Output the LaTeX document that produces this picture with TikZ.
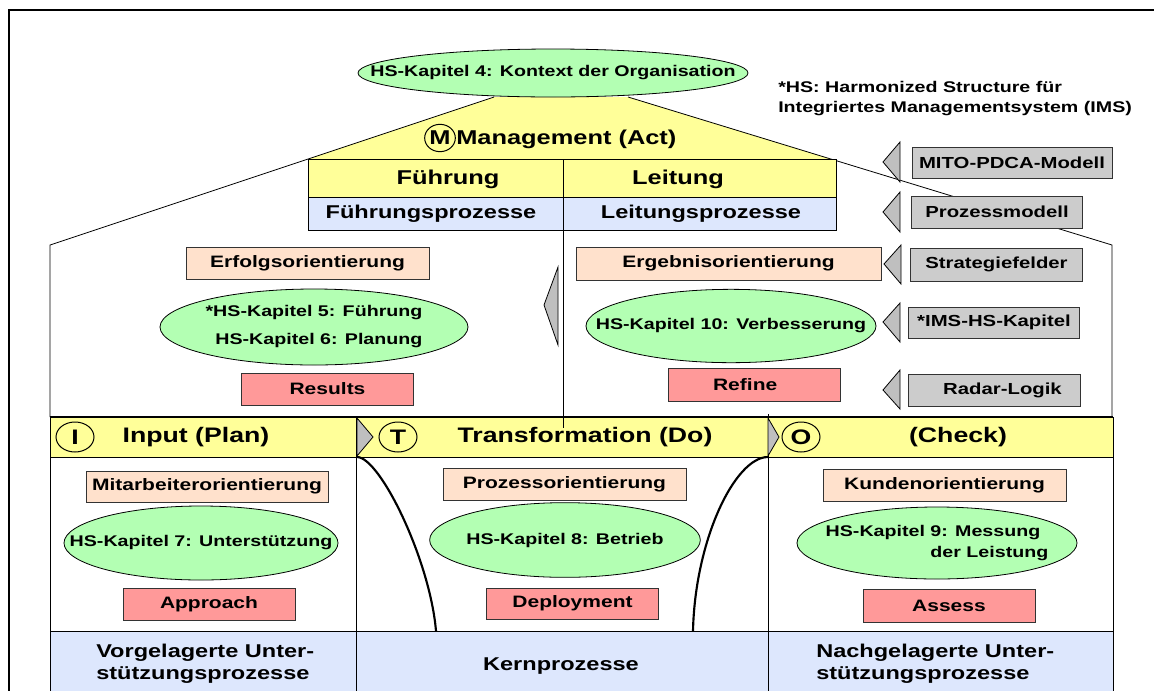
\documentclass[tikz,border=0pt]{standalone}
\usepackage{fontspec}
\setmainfont{Liberation Sans}[FakeStretch=1.27]
\usetikzlibrary{shapes.geometric}
\definecolor{cyel}{HTML}{FFFF99}
\definecolor{cblue}{HTML}{DDE7FD}
\definecolor{cpeach}{HTML}{FFE1CC}
\definecolor{cpink}{HTML}{FF9999}
\definecolor{cgreen}{HTML}{B3FFB3}
\definecolor{cgray}{HTML}{CCCCCC}
\definecolor{ctri}{HTML}{BFBFBF}
\newcommand\fsBand{\fontsize{15.75pt}{18pt}\selectfont\bfseries}
\newcommand\fsMgmt{\fontsize{15pt}{18pt}\selectfont\bfseries}
\newcommand\fsHead{\fontsize{15pt}{18pt}\selectfont\bfseries}
\newcommand\fsProc{\fontsize{13.9pt}{16.5pt}\selectfont\bfseries}
\newcommand\fsBox{\fontsize{12.4pt}{15pt}\selectfont\bfseries}
\newcommand\fsGray{\fontsize{12pt}{15pt}\selectfont\bfseries}
\newcommand\fsEll{\fontsize{11.6pt}{15.75pt}\selectfont\bfseries}
\newcommand\fsEllTwo{\fontsize{11.6pt}{21pt}\selectfont\bfseries}
\newcommand\fsNote{\fontsize{11.6pt}{15pt}\selectfont\bfseries}
\newcommand\fsBottom{\fontsize{13.9pt}{16.5pt}\selectfont\bfseries}
\tikzset{
  thinline/.style={line width=0.6pt},
  bx/.style={draw=black!80, line width=0.6pt, inner sep=0pt, font=\fsBox},
  orient/.style={bx, fill=cpeach, minimum width=182.25pt, minimum height=24pt},
  radarbox/.style={bx, fill=cpink, minimum width=128.5pt, minimum height=24pt},
  graybox/.style={bx, fill=cgray, minimum width=128.5pt, minimum height=24pt, font=\fsGray},
  hsell/.style={ellipse, draw=black, line width=0.6pt, fill=cgreen, inner sep=0pt},
  elltext/.style={inner sep=0pt, font=\fsEll},
  letter/.style={ellipse, draw=black, line width=0.75pt, inner sep=0pt, minimum width=28.5pt, minimum height=22.5pt, font=\fsBand},
  tri/.style={draw=black, line width=0.6pt, fill=ctri, line join=miter},
  bendline/.style={line width=1.6pt},
}
\begin{document}
\begin{tikzpicture}[x=0.75pt,y=-0.75pt]
\useasboundingbox (0,0) rectangle (1154,690);
\fill[white] (0,0) rectangle (1154,690);
% outer frame
\draw[line width=2pt] (9,700) -- (9,10) -- (1160,10);
% house roof
\coordinate (rtl) at (494,97);
\coordinate (rtr) at (628,97);
\coordinate (rbl) at (50,245);
\coordinate (rbr) at (1112,245);
\coordinate (wbl) at (50,417);
\coordinate (wbr) at (1112,417);
\fill[cyel] (rtl) -- (rtr) -- (831,159) -- (308,159) -- cycle;
\draw[thinline] (rtl) -- (rbl) -- (wbl);
\draw[thinline] (rtr) -- (rbr) -- (wbr);
% top ellipse
\node[hsell, minimum width=292.5pt, minimum height=36pt] (ctx) at (553,73) {};
\node[elltext] (ctxt) at (ctx.center) {HS-Kapitel 4: Kontext der Organisation};
% note
\node[anchor=west, align=left, font=\fsNote, inner sep=0pt] (note) at (778,99) {*HS: Harmonized Structure für\\Integriertes Managementsystem (IMS)};
% management
\node[letter, minimum width=23pt, minimum height=20.5pt, font=\fsMgmt] (mcirc) at (440,138) {M};
\node[anchor=west, font=\fsMgmt, inner sep=0pt] (mgmt) at (456,139) {Management (Act)};
% table
\draw[thinline, fill=cyel] (308,159) rectangle (836,197);
\draw[thinline, fill=cblue] (308,197) rectangle (836,230);
\node[font=\fsHead] (fue) at (448,179) {Führung};
\node[font=\fsHead] (lei) at (678,179) {Leitung};
\node[font=\fsProc] (fuep) at (431,214) {Führungsprozesse};
\node[font=\fsProc] (leip) at (701,214) {Leitungsprozesse};
% bands
\draw[thinline, fill=cyel] (50,417) rectangle (1113,457);
\draw[thinline, fill=white] (50,457) rectangle (1113,631);
\draw[thinline, fill=cblue] (50,631) rectangle (1113,700);
\draw[line width=1.5pt] (50,417) -- (1113,417);
\draw[thinline] (356,417) -- (356,700);
\draw[thinline] (768,414) -- (768,700);
\draw[thinline] (563,159) -- (563,428);
% chevrons
\draw[tri] (357,418) -- (373,437) -- (357,456) -- cycle;
\draw[tri] (768,418) -- (779,437) -- (768,456) -- cycle;
% band titles
\node[letter] (ci) at (75,437) {I};
\node[font=\fsBand] (inp) at (196,437) {Input (Plan)};
\node[letter] (ct) at (398,437) {T};
\node[font=\fsBand] (trf) at (585,437) {Transformation (Do)};
\node[letter] (co) at (801,437) {O};
\node[font=\fsBand] (chk) at (958,437) {(Check)};
% upper left
\node[orient] (erf) at (307.5,263) {Erfolgsorientierung};
\node[hsell, minimum width=231pt, minimum height=57pt] (k56) at (314,327) {};
\node[elltext, align=right, font=\fsEllTwo] (k56t) at (k56.center) {*HS-Kapitel 5: Führung\\HS-Kapitel 6: Planung};
\node[radarbox] (res) at (327.5,389) {Results};
% centre triangle
\draw[tri] (558,267) -- (544,305) -- (558,345) -- cycle;
% upper right
\node[orient, minimum width=228.75pt, minimum height=24.75pt] (erg) at (728.5,263.5) {Ergebnisorientierung};
\node[hsell, minimum width=217.5pt, minimum height=55pt] (k10) at (731,326) {};
\node[elltext] (k10t) at (k10.center) {HS-Kapitel 10: Verbesserung};
\node[radarbox, minimum height=24.75pt] (ref) at (754.5,384.5) {Refine\hspace*{14pt}};
% right legend
\node[graybox, minimum width=150pt, minimum height=23.25pt] (mito) at (1012,162.5) {MITO-PDCA-Modell};
\node[graybox] (pm) at (997,212) {Prozessmodell};
\node[graybox, minimum height=24.75pt] (sf) at (996.5,264.5) {Strategiefelder};
\node[graybox, minimum height=23.25pt] (ims) at (994,322.5) {*IMS-HS-Kapitel};
\node[graybox] (rl) at (994.5,390) {\hspace*{12pt}Radar-Logik};
\draw[tri] (900,142) -- (883,162) -- (900,182) -- cycle;
\draw[tri] (900,192) -- (883,212) -- (900,232) -- cycle;
\draw[tri] (901,245) -- (884,264) -- (901,284) -- cycle;
\draw[tri] (900,303) -- (883,322) -- (900,342) -- cycle;
\draw[tri] (900,370) -- (883,390) -- (900,409) -- cycle;
% lower cells
\node[orient, minimum width=181.5pt, minimum height=23.25pt] (mit) at (207,486.5) {Mitarbeiterorientierung};
\node[hsell, minimum width=205.5pt, minimum height=55.5pt] (k7) at (201,543) {};
\node[elltext] (k7t) at (k7.center) {HS-Kapitel 7: Unterstützung};
\node[radarbox, minimum width=129pt] (app) at (209,604) {Approach};
\node[orient] (pro) at (564.5,484) {Prozessorientierung};
\node[hsell, minimum width=203pt, minimum height=56pt] (k8) at (565,540) {};
\node[elltext] (k8t) at (k8.center) {HS-Kapitel 8: Betrieb};
\node[radarbox, minimum height=23.25pt] (dep) at (572.5,603.5) {Deployment};
\node[orient] (kun) at (944.5,485) {Kundenorientierung};
\node[hsell, minimum width=210pt, minimum height=54pt] (k9) at (937,543) {};
\node[elltext, align=right] (k9t) at (k9.center) {HS-Kapitel 9: Messung\hspace*{6pt}\\der Leistung};
\node[radarbox, minimum width=129pt, minimum height=24.75pt] (ass) at (949,605.5) {Assess};
% curves
\coordinate (c1a) at (357,457);
\coordinate (c1b) at (436,631);
\coordinate (c2a) at (768,457);
\coordinate (c2b) at (693,631);
\draw[bendline] (c1a) .. controls (380,457) and (430,560) .. (c1b);
\draw[bendline] (c2a) .. controls (735,457) and (695,540) .. (c2b);
% bottom texts
\node[anchor=west, align=left, font=\fsBottom, inner sep=0pt] (vor) at (96,664) {Vorgelagerte Unter-\\stützungsprozesse};
\node[font=\fsBottom] (kern) at (561,666) {Kernprozesse};
\node[anchor=west, align=left, font=\fsBottom, inner sep=0pt] (nach) at (816,664) {Nachgelagerte Unter-\\stützungsprozesse};
\end{tikzpicture}
\end{document}
